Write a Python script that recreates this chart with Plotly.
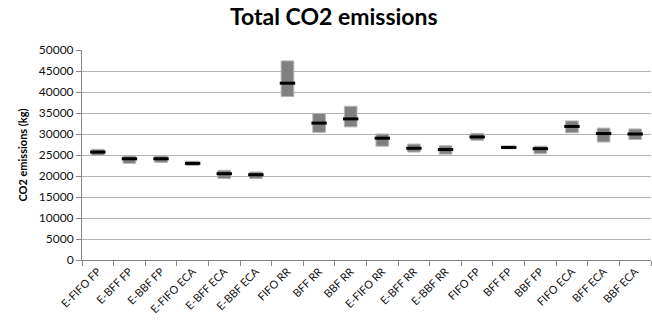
import plotly.graph_objects as go

categories = ["E-FIFO FP", "E-BFF FP", "E-BBF FP", "E-FIFO ECA", "E-BFF ECA", "E-BBF ECA",
              "FIFO RR", "BFF RR", "BBF RR", "E-FIFO RR", "E-BFF RR", "E-BBF RR",
              "FIFO FP", "BFF FP", "BBF FP", "FIFO ECA", "BFF ECA", "BBF ECA"]
low_vals = [24900, 23000, 23250, 22500, 19400, 19400,
            38900, 30400, 31700, 27100, 25700, 25200,
            28500, 26500, 25300, 30300, 28100, 28700]
high_vals = [26350, 24750, 24750, 23500, 21350, 20950,
             47400, 34900, 36600, 30000, 27600, 27200,
             30150, 27150, 27100, 33100, 31400, 31200]
median_vals = [25700, 24100, 24100, 23000, 20550, 20300,
               42100, 32600, 33600, 29000, 26600, 26300,
               29300, 26800, 26500, 31800, 30100, 30000]

font_fam = "Lato, 'Open Sans', sans-serif"

fig = go.Figure()
fig.add_trace(go.Bar(
    x=categories,
    y=[h - l for h, l in zip(high_vals, low_vals)],
    base=low_vals,
    width=0.4,
    marker=dict(color="#808080", line=dict(color="#b4b4b4", width=1)),
    showlegend=False,
    hoverinfo="skip",
))
fig.add_trace(go.Scatter(
    x=categories,
    y=median_vals,
    mode="markers",
    marker=dict(symbol="line-ew", size=11, line=dict(color="black", width=3)),
    showlegend=False,
))

fig.update_layout(
    width=652, height=320,
    margin=dict(l=82, r=1, t=50, b=60),
    paper_bgcolor="white", plot_bgcolor="white",
    title=dict(text="<b>Total CO2 emissions</b>", x=0.512, xanchor="center",
               y=0.948, yanchor="middle", automargin=False,
               font=dict(family=font_fam, size=23, color="black")),
    font=dict(family=font_fam, size=11, color="#222"),
    bargap=0.6,
)
fig.update_xaxes(
    type="category",
    tickangle=-45,
    tickson="boundaries",
    ticks="outside", ticklen=5, tickcolor="#868686",
    showline=True, linecolor="#868686", linewidth=1,
    showgrid=False,
    automargin=False,
    tickfont=dict(size=11, family=font_fam, color="#111"),
    range=[-0.5, 17.5],
)
fig.update_yaxes(
    range=[0, 50000],
    tickmode="array",
    tickvals=list(range(0, 50001, 5000)),
    ticktext=[str(v) for v in range(0, 50001, 5000)],
    ticks="outside", ticklen=5, tickcolor="#868686",
    showline=True, linecolor="#868686", linewidth=1,
    showgrid=True, gridcolor="#b4b4b4", gridwidth=1,
    zeroline=False,
    automargin=False,
    tickfont=dict(size=12, family=font_fam, color="#111"),
    title=dict(text="<b>CO2 emissions (kg)</b>", font=dict(size=11, family=font_fam, color="black"), standoff=8),
)

fig.write_html("out.html",
               config={"displayModeBar": False},
               post_script="document.body.style.margin='0';document.documentElement.style.overflow='hidden';")
